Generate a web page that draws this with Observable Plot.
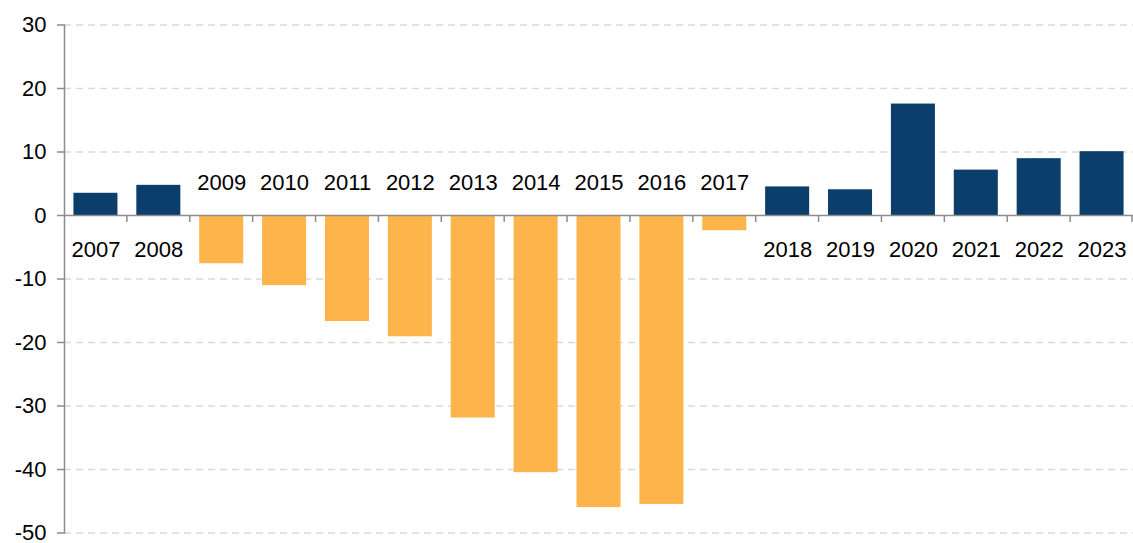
<!DOCTYPE html>
<html>
<head>
<meta charset="utf-8">
<script src="https://cdn.jsdelivr.net/npm/d3@7"></script>
<script src="https://cdn.jsdelivr.net/npm/@observablehq/plot@0.6"></script>
<style>
  html, body { margin: 0; padding: 0; background: #fff; }
  #chart svg { display: block; }
</style>
</head>
<body>
<div id="chart"></div>
<script>
const years = ["2007","2008","2009","2010","2011","2012","2013","2014","2015","2016","2017","2018","2019","2020","2021","2022","2023"];
const values = [3.5, 4.75, -7.6, -11.05, -16.7, -19.1, -31.9, -40.5, -46.0, -45.5, -2.4, 4.5, 4.05, 17.55, 7.15, 8.95, 10.05];
const yTicks = [-50, -40, -30, -20, -10, 0, 10, 20, 30];
const positiveColor = "#0c3e6b";
const negativeColor = "#fdb44b";

const data = years.map((year, i) => ({year, value: values[i]}));

const W = 1133, H = 543;
const marginLeft = 64, marginRight = 0;
const font = "'Liberation Sans', Arial, sans-serif";
const step = (W - marginLeft - marginRight) / years.length;
const inset = step * 0.15;

// category boundary ticks on the zero line, drawn through the chart's scales
function boundaryTicks(index, scales, values, dims) {
  const x = scales.x, y = scales.y;
  const y0 = y(0);
  const g = d3.create("svg:g");
  const xs = years.slice(1).map(d => x(d)).concat([x(years[years.length - 1]) + x.bandwidth() - 1]);
  for (const px of xs) {
    g.append("line").attr("x1", px).attr("x2", px).attr("y1", y0).attr("y2", y0 + 7)
      .attr("stroke", "#8c8c8c").attr("stroke-width", 1.5);
  }
  return g.node();
}

const chart = Plot.plot({
  width: W,
  height: H,
  marginLeft,
  marginRight,
  marginTop: 24.5,
  marginBottom: 10.5,
  style: {fontFamily: font, fontSize: "22px", color: "#000", background: "#fff", overflow: "visible"},
  x: {domain: years, padding: 0, round: false, axis: null},
  y: {domain: [-50, 30], axis: null, label: null},
  marks: [
    Plot.gridY(yTicks.filter(d => d !== 0), {stroke: "#d9d9d9", strokeOpacity: 1, strokeWidth: 1.5, strokeDasharray: "7,5"}),
    Plot.barY(data, {x: "year", y: "value", insetLeft: inset, insetRight: inset, fill: d => d.value >= 0 ? positiveColor : negativeColor}),
    Plot.ruleY([0], {stroke: "#8c8c8c", strokeWidth: 1.5}),
    boundaryTicks,
    Plot.frame({anchor: "left", stroke: "#8c8c8c", strokeWidth: 1.5}),
    Plot.axisY({ticks: yTicks, label: null, tickSize: 7, tickPadding: 11, stroke: "#8c8c8c", strokeWidth: 1.5, fontSize: 22, fill: "#000", tickFormat: d => String(d)}),
    Plot.text(data.filter(d => d.value >= 0), {x: "year", y: 0, text: "year", dy: 34, fill: "#000", fontSize: 22}),
    Plot.text(data.filter(d => d.value < 0), {x: "year", y: 0, text: "year", dy: -33, fill: "#000", fontSize: 22})
  ]
});
document.getElementById("chart").appendChild(chart);
</script>
</body>
</html>
